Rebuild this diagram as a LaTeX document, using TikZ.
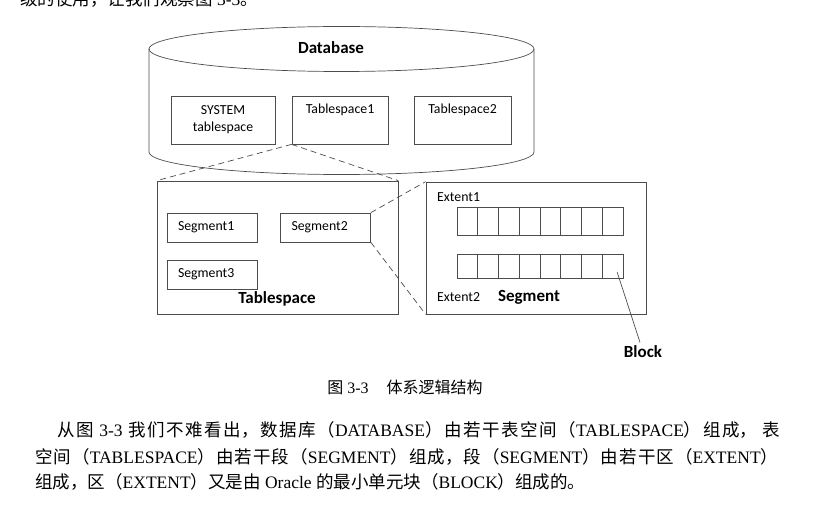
\documentclass[tikz,border=0pt]{standalone}
\usepackage{fontspec}
\setmainfont{Carlito}
\newfontfamily\cjk{Noto Sans CJK SC}
\newfontfamily\tnr{Liberation Serif}
\newcommand{\latn}[1]{{\tnr #1}}
\newcommand{\justline}[2]{\parbox{#1}{\XeTeXlinebreaklocale "zh"\XeTeXlinebreakskip=0pt plus 3pt\parindent=0pt\parfillskip=0pt #2}}
\tikzset{
  every node/.style={font=\fontsize{13.8}{17}\selectfont},
  box/.style={draw=black!70, line width=0.7pt},
  tsbox/.style={box, minimum height=48pt, inner sep=0pt, align=center},
  segbox/.style={box, minimum height=29pt, text width=68pt, inner xsep=11pt, inner ysep=0pt, align=left},
  blk/.style={box, minimum width=20.75pt, inner sep=0pt},
  title/.style={font=\fontsize{17}{20}\selectfont\bfseries},
  zoomline/.style={draw=black!70, line width=0.7pt, dash pattern=on 6pt off 4pt},
  body/.style={font=\fontsize{17.5}{20}\selectfont\cjk, anchor=west, inner sep=0pt}
}
\begin{document}
\begin{tikzpicture}[x=1pt, y=-1pt]
  \useasboundingbox (0,0) rectangle (813,505);
  \node[body] (prev) at (20,-1) {级的使用，让我们观察图\latn{ 3-3}。};

  \draw[box] (341.5,49) ellipse (192.5pt and 22.5pt);
  \draw[box] (149,49) -- (149,152)
    arc[start angle=180, end angle=360, x radius=192.5pt, y radius=22.5pt] -- (534,49);
  \node[title] (db) at (331,48) {Database};
  \node[tsbox, minimum width=104pt] (sys) at (223,120) {SYSTEM\\tablespace};
  \node[tsbox, minimum width=96pt] (ts1) at (340,120) {Tablespace1\\\strut};
  \node[tsbox, minimum width=97pt] (ts2) at (462.5,120) {Tablespace2\\\strut};

  \node[box, minimum width=241pt, minimum height=133pt] (tsp) at (277.5,247.5) {};
  \node[segbox] (seg1) at (212,227.5) {Segment1};
  \node[segbox] (seg2) at (325.5,227.5) {Segment2};
  \node[segbox] (seg3) at (212,274.5) {Segment3};
  \node[title] (tsplbl) at (277,299) {Tablespace};

  \node[box, minimum width=220pt, minimum height=132pt] (sgm) at (536,248) {};
  \node[anchor=west, inner sep=0pt] (ext1) at (437,197) {Extent1};
  \node[anchor=west, inner sep=0pt] (ext2) at (437,297) {Extent2};
  \node[title] (sgmlbl) at (529,297) {Segment};
  \foreach \i in {0,...,7} {
    \node[blk, minimum height=28pt] (ea\i) at (467.375+20.75*\i,221) {};
    \node[blk, minimum height=24pt] (eb\i) at (467.375+20.75*\i,266) {};
  }
  \node[title] (blocklbl) at (643,352) {Block};

  \begin{scope}[zoomline]
    \draw (ts1.south west) -- (tsp.north west);
    \draw (ts1.south west) -- (tsp.north east);
    \draw (seg2.north east) -- (sgm.north west);
    \draw (seg2.south east) -- (sgm.south west);
  \end{scope}
  \draw[draw=black!70, line width=0.7pt] ([shift={(4.5,6)}]eb7.center) -- ([xshift=-3pt]blocklbl.north);

  \node[body, anchor=center, font=\fontsize{16}{19}\selectfont\cjk] (cap) at (405,387)
    {图\latn{ 3-3}\hspace{18pt}体系逻辑结构};
  \node[body] (l1) at (57,430) {\justline{723pt}{从图\latn{ 3-3 }我们不难看出，数据库（\latn{DATABASE}）由若干表空间（\latn{TABLESPACE}）组成，\latn{ }表}};
  \node[body] (l2) at (35,457) {\justline{743pt}{空间（\latn{TABLESPACE}）由若干段（\latn{SEGMENT}）组成，段（\latn{SEGMENT}）由若干区（\latn{EXTENT}）}};
  \node[body] (l3) at (35,482) {组成，区（\latn{EXTENT}）又是由\latn{ Oracle }的最小单元块（\latn{BLOCK}）组成的。};
\end{tikzpicture}
\end{document}
